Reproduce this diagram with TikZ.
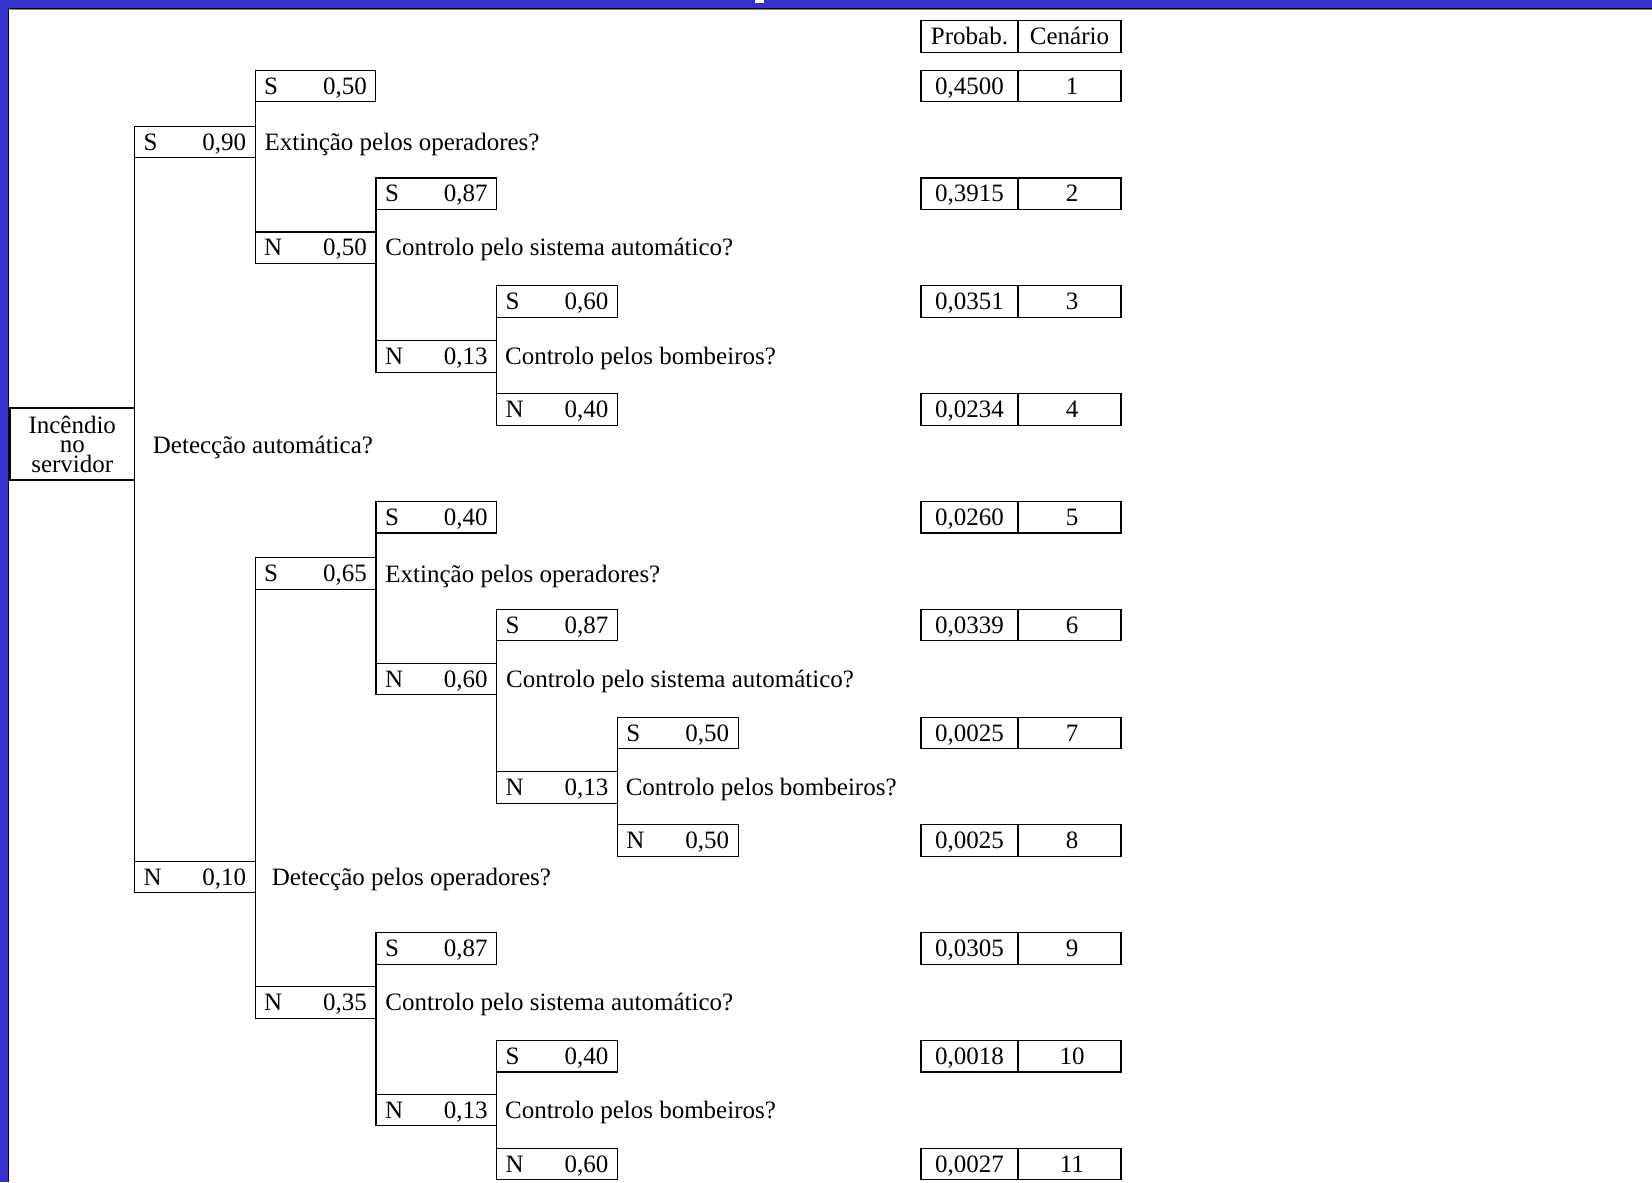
\documentclass[tikz,border=0pt]{standalone}
\usepackage{fontspec}
\setmainfont{Liberation Serif}
\definecolor{frameblue}{RGB}{51,51,204}
\newcommand\brlab[2]{\makebox[51.35pt]{#1\hfill#2}}
\begin{document}
\begin{tikzpicture}[x=0.5pt, y=-0.5pt, font=\fontsize{12.5pt}{15pt}\selectfont,
  ln/.style={line width=0.55pt},
  bbox/.style={draw, ln, outer sep=0pt, minimum width=60.35pt, minimum height=15.75pt, inner xsep=4.5pt, inner ysep=0pt, text height=8.2pt, text depth=0pt, anchor=west},
  qtext/.style={anchor=west, inner sep=0pt, text height=8.2pt, text depth=0pt},
  pbox/.style={draw, ln, outer sep=0pt, minimum width=48.5pt, minimum height=15.75pt, inner sep=0pt, text height=8.2pt, text depth=0pt, anchor=west},
  sbox/.style={pbox, minimum width=51.5pt}]

\useasboundingbox (0,0) rectangle (1652,1182);
\fill[white] (0,0) rectangle (1652,1182);
\fill[frameblue] (0,0) rectangle (1652,8);
\fill[frameblue] (0,0) rectangle (8,1182);
\draw[black, line width=0.6pt] (8,8.6) -- (1652,8.6);
\draw[black, line width=0.6pt] (8.6,8) -- (8.6,1182);
\draw[gray, line width=0.5pt] (9.5,10) -- (1652,10);
\fill[white] (755,0) rectangle (764,3);

% root
\node[draw, ln, outer sep=0pt, anchor=north west, minimum width=62.25pt, minimum height=36pt, inner sep=0pt, align=center, font=\fontsize{12.5pt}{9.75pt}\selectfont] (root) at (10,408) {Incêndio\\no\\servidor};

% branch boxes
\node[bbox] (a) at (134.5,142) {\brlab{S}{0,90}};
\node[bbox] (b) at (134.5,877) {\brlab{N}{0,10}};
\node[bbox] (c) at (255.2,86) {\brlab{S}{0,50}};
\node[bbox] (d) at (255.2,247.7) {\brlab{N}{0,50}};
\node[bbox] (e) at (376,193.8) {\brlab{S}{0,87}};
\node[bbox] (f) at (376,356.5) {\brlab{N}{0,13}};
\node[bbox] (g) at (496.7,301.6) {\brlab{S}{0,60}};
\node[bbox] (h) at (496.7,409.4) {\brlab{N}{0,40}};
\node[bbox] (i) at (255.2,573.5) {\brlab{S}{0,65}};
\node[bbox] (j) at (255.2,1002.3) {\brlab{N}{0,35}};
\node[bbox] (k) at (376,517.2) {\brlab{S}{0,40}};
\node[bbox] (m) at (376,678.9) {\brlab{N}{0,60}};
\node[bbox] (n) at (496.7,625) {\brlab{S}{0,87}};
\node[bbox] (o) at (496.7,787.5) {\brlab{N}{0,13}};
\node[bbox] (p) at (617.4,732.8) {\brlab{S}{0,50}};
\node[bbox] (q) at (617.4,840.6) {\brlab{N}{0,50}};
\node[bbox] (r) at (376,948.4) {\brlab{S}{0,87}};
\node[bbox] (s) at (376,1110.1) {\brlab{N}{0,13}};
\node[bbox] (t) at (496.7,1056.2) {\brlab{S}{0,40}};
\node[bbox] (u) at (496.7,1164) {\brlab{N}{0,60}};

% verticals
\draw[ln] (a.south west) -- (b.north west);
\draw[ln] (c.south west) -- (d.north west);
\draw[ln] (e.south west) -- (f.north west);
\draw[ln] (g.south west) -- (h.north west);
\draw[ln] (i.south west) -- (j.north west);
\draw[ln] (k.south west) -- (m.north west);
\draw[ln] (n.south west) -- (o.north west);
\draw[ln] (p.south west) -- (q.north west);
\draw[ln] (r.south west) -- (s.north west);
\draw[ln] (t.south west) -- (u.north west);

% questions
\node[qtext] (qa) at (152.5,445) {Detecção automática?};
\node[qtext] (qb) at (264.2,142.5) {Extinção pelos operadores?};
\node[qtext] (qc) at (385,247.7) {Controlo pelo sistema automático?};
\node[qtext] (qd) at (504.7,356.5) {Controlo pelos bombeiros?};
\node[qtext] (qe) at (271.5,877) {Detecção pelos operadores?};
\node[qtext] (qf) at (385,574) {Extinção pelos operadores?};
\node[qtext] (qg) at (505.7,678.9) {Controlo pelo sistema automático?};
\node[qtext] (qh) at (625.4,787.5) {Controlo pelos bombeiros?};
\node[qtext] (qi) at (385,1002.3) {Controlo pelo sistema automático?};
\node[qtext] (qj) at (504.7,1110.1) {Controlo pelos bombeiros?};

% results table
\node[pbox, minimum height=16pt] (ph) at (921,36.5) {Probab.};
\node[sbox, minimum height=16pt] (sh) at (ph.east) {Cenário};
\node[pbox] (p1) at (921,86) {0,4500};    \node[sbox] (s1) at (p1.east) {\hspace*{2.5pt}1};
\node[pbox] (p2) at (921,193.8) {0,3915};  \node[sbox] (s2) at (p2.east) {\hspace*{2.5pt}2};
\node[pbox] (p3) at (921,301.6) {0,0351};  \node[sbox] (s3) at (p3.east) {\hspace*{2.5pt}3};
\node[pbox] (p4) at (921,409.4) {0,0234};  \node[sbox] (s4) at (p4.east) {\hspace*{2.5pt}4};
\node[pbox] (p5) at (921,517.2) {0,0260};  \node[sbox] (s5) at (p5.east) {\hspace*{2.5pt}5};
\node[pbox] (p6) at (921,625) {0,0339};    \node[sbox] (s6) at (p6.east) {\hspace*{2.5pt}6};
\node[pbox] (p7) at (921,732.8) {0,0025};  \node[sbox] (s7) at (p7.east) {\hspace*{2.5pt}7};
\node[pbox] (p8) at (921,840.6) {0,0025};  \node[sbox] (s8) at (p8.east) {\hspace*{2.5pt}8};
\node[pbox] (p9) at (921,948.4) {0,0305};  \node[sbox] (s9) at (p9.east) {\hspace*{2.5pt}9};
\node[pbox] (p10) at (921,1056.2) {0,0018}; \node[sbox] (s10) at (p10.east) {\hspace*{2.5pt}10};
\node[pbox] (p11) at (921,1164) {0,0027};   \node[sbox] (s11) at (p11.east) {\hspace*{2.5pt}11};
\end{tikzpicture}
\end{document}
